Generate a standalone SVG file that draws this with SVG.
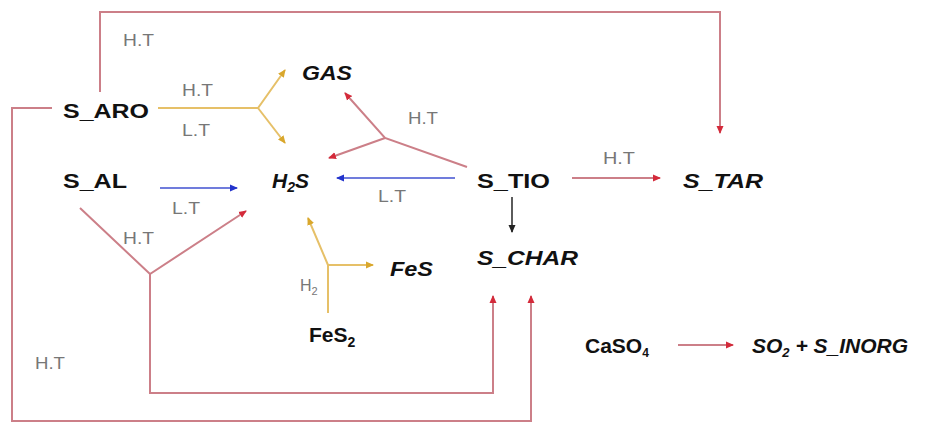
<svg xmlns="http://www.w3.org/2000/svg" width="933" height="424" viewBox="0 0 933 424">
<defs>
<marker id="ar" markerWidth="8" markerHeight="8" refX="7" refY="4" orient="auto" markerUnits="userSpaceOnUse"><path d="M0,0.5 L8,4 L0,7.5 z" fill="#d42a3a"/></marker>
<marker id="ay" markerWidth="8" markerHeight="8" refX="7" refY="4" orient="auto" markerUnits="userSpaceOnUse"><path d="M0,0.5 L8,4 L0,7.5 z" fill="#d9a72c"/></marker>
<marker id="ab" markerWidth="8" markerHeight="8" refX="7" refY="4" orient="auto" markerUnits="userSpaceOnUse"><path d="M0,0.5 L8,4 L0,7.5 z" fill="#2233cc"/></marker>
<marker id="ak" markerWidth="8" markerHeight="8" refX="7" refY="4" orient="auto" markerUnits="userSpaceOnUse"><path d="M0,0.5 L8,4 L0,7.5 z" fill="#222"/></marker>
</defs>
<style>
.r{fill:none;stroke:#cc7f88;stroke-width:2}
.y{fill:none;stroke:#e6c068;stroke-width:2}
.b{fill:none;stroke:#4050d0;stroke-width:1.6}
.k{fill:none;stroke:#333;stroke-width:1.6}
.n{font-family:"Liberation Sans",Arial,sans-serif;font-weight:bold;font-size:21px;fill:#111}
.i{font-style:italic}
.l{font-family:"Liberation Sans",Arial,sans-serif;font-size:16px;fill:#777}
</style>
<rect width="933" height="424" fill="#fff"/>
<g id="connectors">
<path class="r" d="M100,92 V12 H720 V133" marker-end="url(#ar)"/>
<path class="r" d="M52,108 H12 V421 H531 V296" marker-end="url(#ar)"/>
<path class="r" d="M80,208 L150,274 L246,211" marker-end="url(#ar)"/>
<path class="r" d="M150,274 V393 H493 V296" marker-end="url(#ar)"/>
<path class="r" d="M467,167 L385,138 L345,93" marker-end="url(#ar)"/>
<path class="r" d="M385,138 L329,158" marker-end="url(#ar)"/>
<path class="r" d="M572,178 H660" marker-end="url(#ar)"/>
<path class="r" d="M678,345 H733" marker-end="url(#ar)"/>
<path class="b" d="M455,178 H337" marker-end="url(#ab)"/>
<path class="b" d="M160,188 H237" marker-end="url(#ab)"/>
<path class="y" d="M158,108 H258 L285,70" marker-end="url(#ay)"/>
<path class="y" d="M258,108 L285,143" marker-end="url(#ay)"/>
<path class="y" d="M328,313 V265 L308,218" marker-end="url(#ay)"/>
<path class="y" d="M328,265 H373" marker-end="url(#ay)"/>
<path class="k" d="M512,197 V232" marker-end="url(#ak)"/>
</g>
<g id="labels">
<text class="l" x="123" y="46" textLength="31" lengthAdjust="spacingAndGlyphs">H.T</text>
<text class="l" x="182" y="96" textLength="31" lengthAdjust="spacingAndGlyphs">H.T</text>
<text class="l" x="182" y="136" textLength="28" lengthAdjust="spacingAndGlyphs">L.T</text>
<text class="l" x="408" y="124" textLength="30" lengthAdjust="spacingAndGlyphs">H.T</text>
<text class="l" x="172" y="214" textLength="28" lengthAdjust="spacingAndGlyphs">L.T</text>
<text class="l" x="378" y="202" textLength="28" lengthAdjust="spacingAndGlyphs">L.T</text>
<text class="l" x="123" y="244" textLength="31" lengthAdjust="spacingAndGlyphs">H.T</text>
<text class="l" x="35" y="369" textLength="30" lengthAdjust="spacingAndGlyphs">H.T</text>
<text class="l" x="603" y="164" textLength="32" lengthAdjust="spacingAndGlyphs">H.T</text>
<text class="l" x="300" y="291">H<tspan font-size="11" dy="4">2</tspan></text>
</g>
<g id="S_ARO"><text class="n" x="63" y="118" textLength="86" lengthAdjust="spacingAndGlyphs">S_ARO</text></g>
<g id="S_AL"><text class="n" x="63" y="188" textLength="64" lengthAdjust="spacingAndGlyphs">S_AL</text></g>
<g id="GAS"><text class="n i" x="302" y="80" textLength="50" lengthAdjust="spacingAndGlyphs">GAS</text></g>
<g id="H2S"><text class="n i" x="272" y="188" font-size="23">H<tspan font-size="14" dy="4">2</tspan><tspan dy="-4">S</tspan></text></g>
<g id="S_TIO"><text class="n" x="477" y="188" textLength="73" lengthAdjust="spacingAndGlyphs">S_TIO</text></g>
<g id="S_TAR"><text class="n i" x="683" y="188" textLength="80" lengthAdjust="spacingAndGlyphs">S_TAR</text></g>
<g id="S_CHAR"><text class="n i" x="477" y="265" textLength="101" lengthAdjust="spacingAndGlyphs">S_CHAR</text></g>
<g id="FeS"><text class="n i" x="390" y="276" textLength="43" lengthAdjust="spacingAndGlyphs">FeS</text></g>
<g id="FeS2"><text class="n" x="309" y="342" font-size="22">FeS<tspan font-size="14" dy="5">2</tspan></text></g>
<g id="CaSO4"><text class="n" x="585" y="353" font-size="20">CaSO<tspan font-size="12" dy="4">4</tspan></text></g>
<g id="SO2_S_INORG"><text class="n i" x="752" y="353" font-size="21">SO<tspan font-size="13" dy="4">2</tspan><tspan dy="-4"> + S_INORG</tspan></text></g>
</svg>
